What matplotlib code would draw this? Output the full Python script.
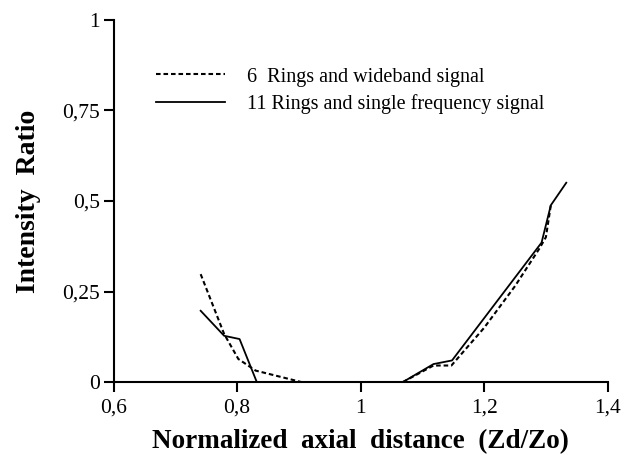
import numpy as np
import matplotlib.pyplot as plt

# data
x_wide = [0.741, 0.779, 0.802, 0.830, 0.905, 1.0, 1.068, 1.118, 1.147, 1.20, 1.25, 1.29, 1.300, 1.308]
y_wide = [0.298, 0.133, 0.064, 0.032, 0.0, 0.0, 0.0, 0.046, 0.046, 0.150, 0.265, 0.370, 0.400, 0.488]

x_single = [0.741, 0.779, 0.804, 0.832, 1.0, 1.068, 1.118, 1.148, 1.293, 1.308, 1.333]
y_single = [0.197, 0.128, 0.119, 0.0, 0.0, 0.0, 0.050, 0.060, 0.385, 0.488, 0.550]

xticks = [0.6, 0.8, 1.0, 1.2, 1.4]
xtick_labels = ['0,6', '0,8', '1', '1,2', '1,4']
yticks = [0, 0.25, 0.5, 0.75, 1]
ytick_labels = ['0', '0,25', '0,5', '0,75', '1']

plt.rcParams['font.family'] = ['Liberation Serif', 'DejaVu Serif']

fig = plt.figure(figsize=(6.31, 4.55), dpi=100)
ax = fig.add_axes([0.180, 0.160, 0.783, 0.797])

ax.plot(x_wide, y_wide, color='black', lw=1.5, linestyle=(0, (2.2, 1.4)),
        label='6  Rings and wideband signal')
ax.plot(x_single, y_single, color='black', lw=1.3,
        label='11 Rings and single frequency signal')

ax.set_xlim(0.6, 1.4)
ax.set_ylim(0, 1)
ax.set_xticks(xticks)
ax.set_xticklabels(xtick_labels)
ax.set_yticks(yticks)
ax.set_yticklabels(ytick_labels)
ax.tick_params(direction='out', length=7, width=1.5, labelsize=15.5)
ax.tick_params(axis='x', pad=5)
ax.tick_params(axis='y', pad=3)

for s in ['top', 'right']:
    ax.spines[s].set_visible(False)
for s in ['left', 'bottom']:
    ax.spines[s].set_linewidth(1.5)

ax.set_xlabel('Normalized  axial  distance  (Zd/Zo)', fontsize=19.5, fontweight='bold', labelpad=8)
ax.set_ylabel('Intensity  Ratio', fontsize=20, fontweight='bold', labelpad=15)

ax.legend(loc='upper left', bbox_to_anchor=(0.05, 0.918), frameon=False, fontsize=14.5,
          handlelength=3.4, handletextpad=1.1, labelspacing=0.38)

fig.savefig('out.png', dpi=100)
